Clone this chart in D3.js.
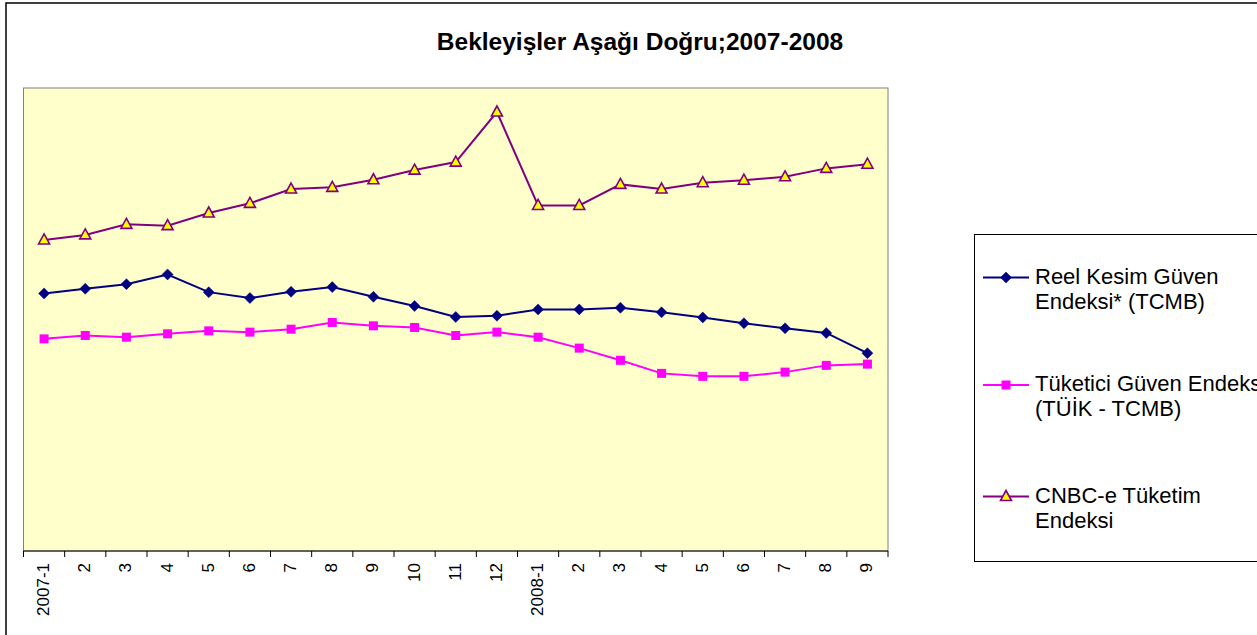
<!DOCTYPE html>
<html>
<head>
<meta charset="utf-8">
<script src="https://cdn.jsdelivr.net/npm/d3@7"></script>
<style>
  html, body { margin: 0; padding: 0; background: #fff; overflow: hidden; }
  svg { display: block; }
</style>
</head>
<body>
<svg id="chart" width="1257" height="635"></svg>
<script>
const title = "Bekleyişler Aşağı Doğru;2007-2008";
const categories = ["2007-1","2","3","4","5","6","7","8","9","10","11","12",
                    "2008-1","2","3","4","5","6","7","8","9"];
const seriesNames = ["Reel Kesim Güven Endeksi* (TCMB)",
                     "Tüketici Güven Endeksi (TÜİK - TCMB)",
                     "CNBC-e Tüketim Endeksi"];
const reelKesim = [101.2,102.3,103.4,105.7,101.5,100.1,101.6,102.7,100.4,98.2,95.6,95.9,
                   97.4,97.4,97.8,96.7,95.5,94.1,92.9,91.8,87.0];
const tuketici = [90.4,91.2,90.8,91.6,92.3,92.0,92.7,94.3,93.5,93.1,91.2,92.0,
                  90.8,88.2,85.3,82.2,81.5,81.5,82.5,84.1,84.4];
const cnbc = [113.9,115.1,117.6,117.3,120.3,122.6,126.0,126.4,128.2,130.5,132.4,144.3,
              122.1,122.1,127.1,126.0,127.5,128.1,128.9,130.9,131.9];
const yDomain = [40, 150];

const svg = d3.select("#chart");
const plot = {left: 23.5, top: 88, right: 888, bottom: 551};
const FONT = "Liberation Sans, Arial, sans-serif";

// outer chart border
svg.append("rect").attr("x", 6).attr("y", 3).attr("width", 1300).attr("height", 700)
  .attr("fill", "#fff").attr("stroke", "#000").attr("stroke-width", 1.5);

// title
svg.append("text").attr("x", 640).attr("y", 50).attr("text-anchor", "middle")
  .attr("font-family", FONT).attr("font-weight", "bold")
  .attr("font-size", 24.5).attr("fill", "#000").text(title);

const idx = categories.map((c, i) => i);
const x = d3.scaleBand().domain(idx).range([plot.left, plot.right]).padding(0);
const y = d3.scaleLinear().domain(yDomain).range([plot.bottom, plot.top]);

// plot area
svg.append("rect").attr("x", plot.left).attr("y", plot.top)
  .attr("width", plot.right - plot.left).attr("height", plot.bottom - plot.top)
  .attr("fill", "#FFFFCC").attr("stroke", "#808080").attr("stroke-width", 1);

// x axis
const xAxisG = svg.append("g").attr("transform", `translate(0,${plot.bottom})`);
xAxisG.append("line").attr("x1", plot.left).attr("x2", plot.right)
  .attr("y1", 0).attr("y2", 0).attr("stroke", "#000").attr("stroke-width", 1);
const edges = idx.map(i => x(i)).concat([x(idx[idx.length - 1]) + x.bandwidth()]);
xAxisG.selectAll("line.tick").data(edges).enter().append("line").attr("class", "tick")
  .attr("x1", d => d).attr("x2", d => d).attr("y1", 0).attr("y2", 6)
  .attr("stroke", "#000").attr("stroke-width", 1);
xAxisG.selectAll("text.lbl").data(idx).enter().append("text").attr("class", "lbl")
  .attr("transform", d => `translate(${x(d) + x.bandwidth() / 2 - 1},12) rotate(-90)`)
  .attr("text-anchor", "end").attr("dy", "0.35em")
  .attr("font-family", FONT).attr("font-size", 17)
  .attr("fill", "#000").text(d => categories[d]);

const cx = i => x(i) + x.bandwidth() / 2;
const line = d3.line().x((d, i) => cx(i)).y(d => y(d));

const series = [
  {name: seriesNames[0], data: reelKesim, color: "#000080", marker: "diamond"},
  {name: seriesNames[1], data: tuketici, color: "#FF00FF", marker: "square"},
  {name: seriesNames[2], data: cnbc, color: "#800080", marker: "triangle"}
];

function drawMarker(g, type, color, px, py) {
  if (type === "diamond") {
    g.append("path").attr("d", `M${px},${py - 5.5}L${px + 5.5},${py}L${px},${py + 5.5}L${px - 5.5},${py}Z`)
      .attr("fill", color).attr("stroke", color).attr("stroke-width", 0.5);
  } else if (type === "square") {
    g.append("rect").attr("x", px - 4.5).attr("y", py - 4.5).attr("width", 9).attr("height", 9)
      .attr("fill", color);
  } else {
    g.append("path").attr("d", `M${px},${py - 6}L${px + 5.5},${py + 4}L${px - 5.5},${py + 4}Z`)
      .attr("fill", "#FFFF00").attr("stroke", color).attr("stroke-width", 1.6)
      .attr("stroke-linejoin", "miter");
  }
}

const drawOrder = [2, 0, 1];
drawOrder.forEach(si => {
  const s = series[si];
  const g = svg.append("g");
  g.append("path").datum(s.data).attr("d", line).attr("fill", "none")
    .attr("stroke", s.color).attr("stroke-width", 2);
  s.data.forEach((v, i) => drawMarker(g, s.marker, s.color, cx(i), y(v)));
});

// legend (the reference itself is clipped at the right edge of the window)
const lg = svg.append("g");
lg.append("rect").attr("x", 974.5).attr("y", 234.5).attr("width", 400).attr("height", 327)
  .attr("fill", "#fff").attr("stroke", "#000").attr("stroke-width", 1);
const legendLines = [
  ["Reel Kesim Güven", "Endeksi* (TCMB)"],
  ["Tüketici Güven Endeksi", "(TÜİK - TCMB)"],
  ["CNBC-e Tüketim", "Endeksi"]
];
const legendY = [277.5, 385, 496.5];
series.forEach((s, i) => {
  const ly = legendY[i];
  lg.append("line").attr("x1", 983).attr("x2", 1029).attr("y1", ly).attr("y2", ly)
    .attr("stroke", s.color).attr("stroke-width", 2);
  drawMarker(lg, s.marker, s.color, 1006, ly);
  const t = lg.append("text").attr("x", 1035).attr("y", ly + 6)
    .attr("font-family", FONT).attr("font-size", 22)
    .attr("fill", "#000");
  t.append("tspan").attr("x", 1035).text(legendLines[i][0]);
  t.append("tspan").attr("x", 1035).attr("dy", 25).text(legendLines[i][1]);
});
</script>
</body>
</html>
